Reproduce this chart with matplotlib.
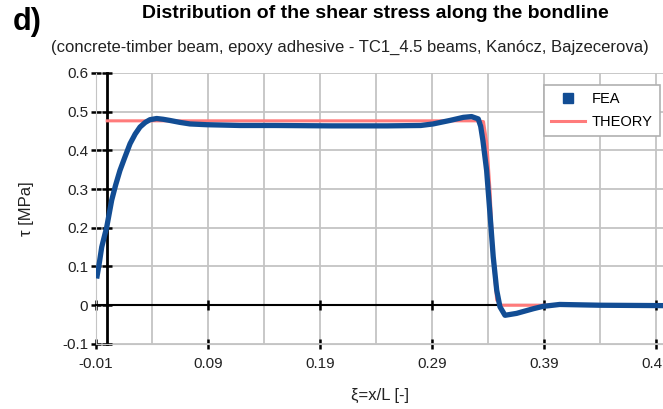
import matplotlib
matplotlib.use("Agg")
import matplotlib.pyplot as plt
from matplotlib.lines import Line2D

plt.rcParams['font.family'] = ['Liberation Sans', 'DejaVu Sans']

# FEA shear stress
fea_x = [-0.0094, -0.0070, -0.0049, -0.0025, -0.0004, 0.0040, 0.0075, 0.0114,
         0.0155, 0.0204, 0.0250, 0.0293, 0.0340, 0.0382, 0.0442, 0.0500,
         0.0560, 0.0650, 0.0739, 0.0888, 0.1186, 0.1500, 0.2000, 0.2500,
         0.2800, 0.2910, 0.3060, 0.3180, 0.3254, 0.3313, 0.3335, 0.3355,
         0.3388, 0.3418, 0.3447, 0.3478, 0.3507, 0.3552, 0.3656, 0.3805,
         0.3890, 0.4040, 0.4400, 0.4963]
fea_y = [0.069, 0.110, 0.150, 0.178, 0.202, 0.271, 0.310, 0.348,
         0.380, 0.417, 0.442, 0.460, 0.472, 0.479, 0.482, 0.480,
         0.477, 0.472, 0.468, 0.466, 0.464, 0.464, 0.463, 0.463,
         0.464, 0.468, 0.477, 0.485, 0.487, 0.481, 0.462, 0.425,
         0.348, 0.236, 0.125, 0.039, -0.004, -0.026, -0.021, -0.009,
         -0.003, 0.002, 0.000, -0.001]

# theoretical solution
theory_x = [0.0, 0.330, 0.336, 0.339, 0.342, 0.3447, 0.3478, 0.352, 0.4963]
theory_y = [0.476, 0.476, 0.474, 0.418, 0.289, 0.116, 0.013, 0.0, 0.0]

x_ticks = [-0.01, 0.09, 0.19, 0.29, 0.39, 0.49]
x_minor = [0.04, 0.14, 0.24, 0.34, 0.44]
y_ticks = [-0.1, 0.0, 0.1, 0.2, 0.3, 0.4, 0.5, 0.6]
y_labels = ['-0.1', '0', '0.1', '0.2', '0.3', '0.4', '0.5', '0.6']

fig = plt.figure(figsize=(6.63, 4.09), dpi=100)
ax = fig.add_axes([0.1448, 0.159, 0.8552, 0.663])

grid_c = '#c4c4c4'
txt_c = '#222222'
ax.set_xticks(x_ticks)
ax.set_xticks(x_minor, minor=True)
ax.set_yticks(y_ticks)
ax.set_yticklabels(y_labels)
ax.set_xticklabels([str(v) for v in x_ticks])
ax.grid(True, which='both', axis='x', color=grid_c, lw=1.3)
ax.grid(True, which='major', axis='y', color=grid_c, lw=1.3)
ax.set_axisbelow(True)

ax.plot(theory_x, theory_y, color='#ff7b7b', lw=2.2, zorder=3)
ax.plot(fea_x, fea_y, color='#124d94', lw=3.8, zorder=4,
        solid_capstyle='butt')

ax.set_xlim(-0.01, 0.4963)
ax.set_ylim(-0.1, 0.6)

# Excel-like axes crossing at zero
ax.spines['top'].set_position(('data', 0))
ax.spines['top'].set_color('black')
ax.spines['top'].set_linewidth(1.5)
ax.spines['right'].set_position(('data', 0))
ax.spines['right'].set_color('black')
ax.spines['right'].set_linewidth(2)
ax.spines['left'].set_color(grid_c)
ax.spines['bottom'].set_color(grid_c)
ax.xaxis.set_ticks_position('both')
ax.yaxis.set_ticks_position('both')
ax.tick_params(axis='both', which='major', direction='inout', length=7,
               width=1.8, color='black', labelsize=11, labelcolor=txt_c)
ax.tick_params(axis='x', which='minor', length=0)
ax.tick_params(labeltop=False, labelright=False)
ax.tick_params(axis='x', pad=6)
ax.tick_params(axis='y', pad=2)

ax.set_xlabel('ξ=x/L [-]', fontsize=12, labelpad=12, color=txt_c)
ax.set_ylabel('τ [MPa]', fontsize=12, labelpad=20, color=txt_c)

handles = [Line2D([], [], color='#124d94', marker='s', ls='none', ms=6.5),
           Line2D([], [], color='#ff7b7b', lw=2.2)]
leg = ax.legend(handles, ['FEA', 'THEORY'], loc='upper right',
                bbox_to_anchor=(0.995, 0.956), fontsize=10.5, frameon=True,
                fancybox=False, edgecolor='#b0b0b0', framealpha=1,
                handlelength=2.3, borderpad=0.5, labelspacing=0.6,
                handletextpad=0.5, borderaxespad=0.0)
leg.get_frame().set_linewidth(1.2)

fig.text(0.041, 0.946, 'd)', fontsize=22, fontweight='bold', ha='center',
         va='center')
fig.text(0.566, 0.966, 'Distribution of the shear stress along the bondline',
         fontsize=14, fontweight='bold', ha='center', va='center')
fig.text(0.528, 0.884,
         '(concrete-timber beam, epoxy adhesive - TC1_4.5 beams, Kanócz, Bajzecerova)',
         fontsize=12, ha='center', va='center', color=txt_c)

fig.savefig('out.png', dpi=100)
